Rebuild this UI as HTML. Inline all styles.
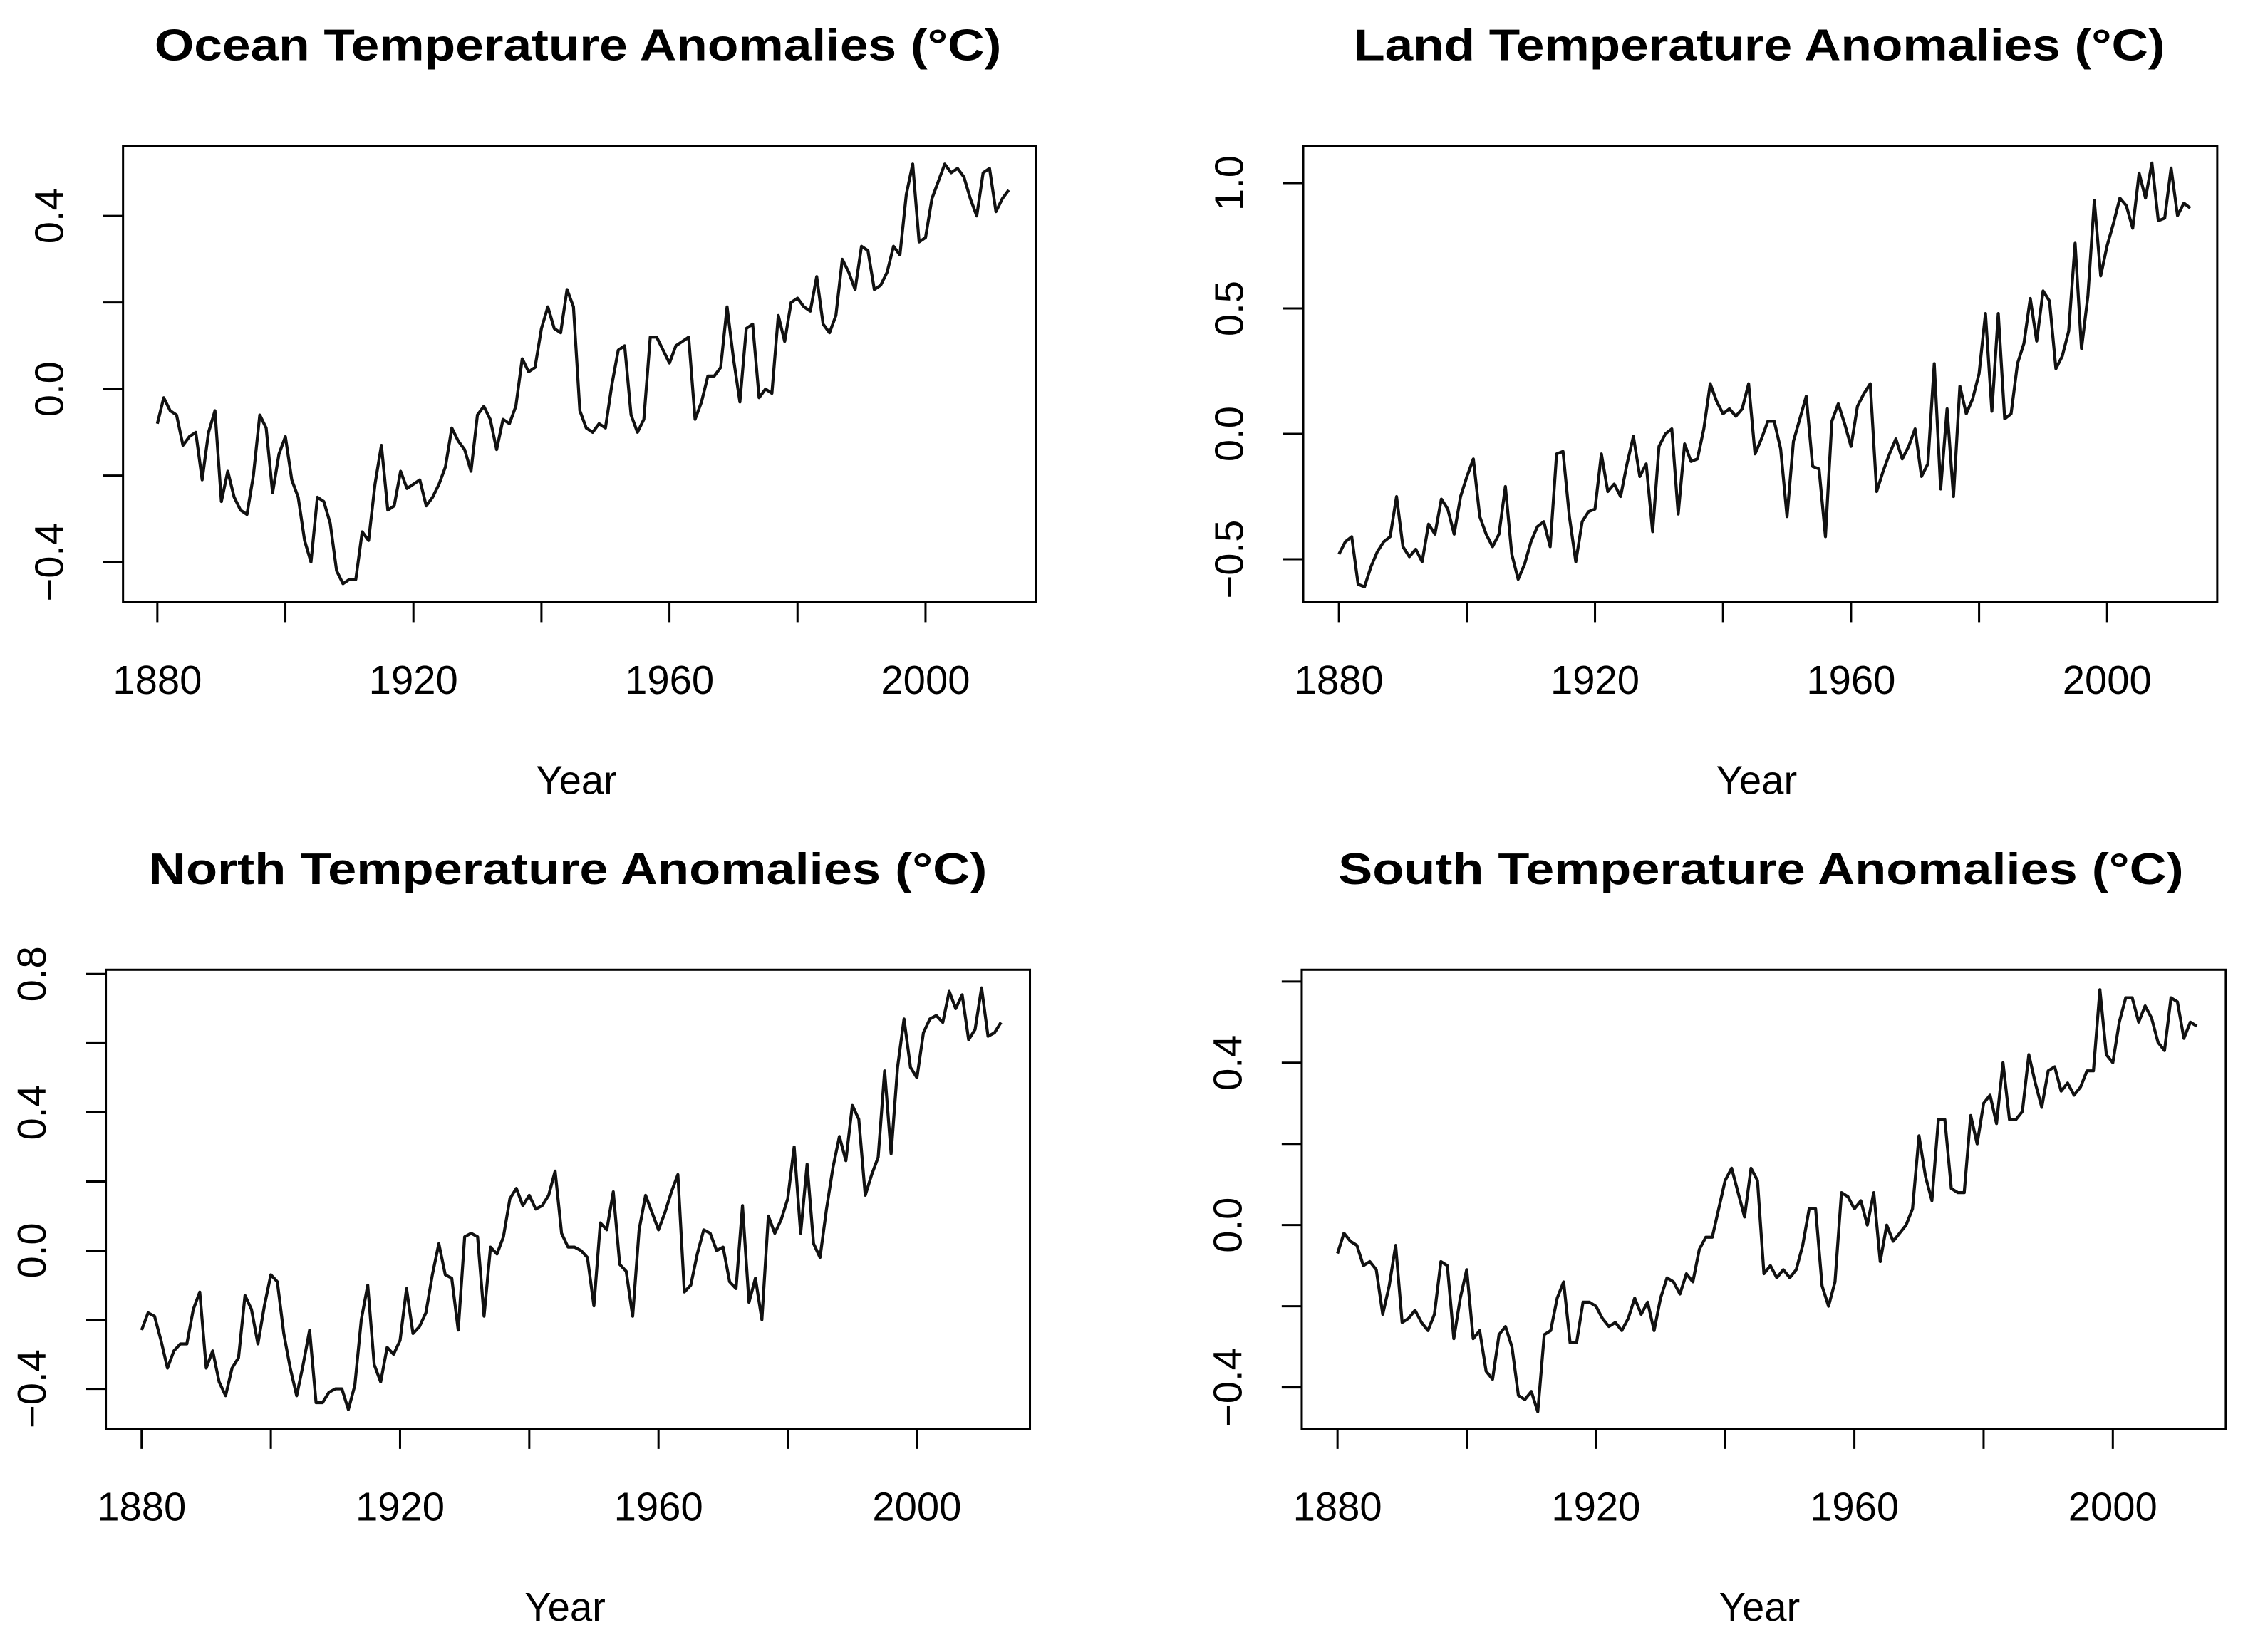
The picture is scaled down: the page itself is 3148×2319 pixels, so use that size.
<!DOCTYPE html>
<html><head><meta charset="utf-8"><style>
html,body{margin:0;padding:0;background:#fff;}
svg{display:block;}
text{font-family:"Liberation Sans",Arial,sans-serif;fill:#000;}
</style></head><body>
<svg id="chart" width="3148" height="2319" viewBox="0 0 1568 1155" preserveAspectRatio="none" xmlns="http://www.w3.org/2000/svg"></svg>
<script>
const startYear = 1880;
const oceanValues = [
-0.08,-0.02,-0.05,-0.06,-0.13,-0.11,-0.10,-0.21,-0.10,-0.05,
-0.26,-0.19,-0.25,-0.28,-0.29,-0.20,-0.06,-0.09,-0.24,-0.15,
-0.11,-0.21,-0.25,-0.35,-0.40,-0.25,-0.26,-0.31,-0.42,-0.45,
-0.44,-0.44,-0.33,-0.35,-0.22,-0.13,-0.28,-0.27,-0.19,-0.23,
-0.22,-0.21,-0.27,-0.25,-0.22,-0.18,-0.09,-0.12,-0.14,-0.19,
-0.06,-0.04,-0.07,-0.14,-0.07,-0.08,-0.04,0.07,0.04,0.05,
0.14,0.19,0.14,0.13,0.23,0.19,-0.05,-0.09,-0.10,-0.08,
-0.09,0.01,0.09,0.10,-0.06,-0.10,-0.07,0.12,0.12,0.09,
0.06,0.10,0.11,0.12,-0.07,-0.03,0.03,0.03,0.05,0.19,
0.07,-0.03,0.14,0.15,-0.02,0.00,-0.01,0.17,0.11,0.20,
0.21,0.19,0.18,0.26,0.15,0.13,0.17,0.30,0.27,0.23,
0.33,0.32,0.23,0.24,0.27,0.33,0.31,0.45,0.52,0.34,
0.35,0.44,0.48,0.52,0.50,0.51,0.49,0.44,0.40,0.50,
0.51,0.41,0.44,0.46];
const landValues = [
-0.48,-0.43,-0.41,-0.60,-0.61,-0.53,-0.47,-0.43,-0.41,-0.25,
-0.45,-0.49,-0.46,-0.51,-0.36,-0.40,-0.26,-0.30,-0.40,-0.25,
-0.17,-0.10,-0.33,-0.40,-0.45,-0.40,-0.21,-0.48,-0.58,-0.52,
-0.43,-0.37,-0.35,-0.45,-0.08,-0.07,-0.33,-0.51,-0.35,-0.31,
-0.30,-0.08,-0.23,-0.20,-0.25,-0.12,-0.01,-0.17,-0.12,-0.39,
-0.05,0.00,0.02,-0.32,-0.04,-0.11,-0.10,0.02,0.20,0.13,
0.08,0.10,0.07,0.10,0.20,-0.08,-0.02,0.05,0.05,-0.06,
-0.33,-0.03,0.06,0.15,-0.13,-0.14,-0.41,0.05,0.12,0.04,
-0.05,0.11,0.16,0.20,-0.23,-0.15,-0.08,-0.02,-0.10,-0.05,
0.02,-0.17,-0.12,0.28,-0.22,0.10,-0.25,0.19,0.08,0.14,
0.24,0.48,0.09,0.48,0.06,0.08,0.28,0.36,0.54,0.37,
0.57,0.53,0.26,0.31,0.41,0.76,0.34,0.55,0.93,0.63,
0.75,0.84,0.94,0.91,0.82,1.04,0.94,1.08,0.85,0.86,
1.06,0.87,0.92,0.90];
const northValues = [
-0.23,-0.18,-0.19,-0.26,-0.34,-0.29,-0.27,-0.27,-0.17,-0.12,
-0.34,-0.29,-0.38,-0.42,-0.34,-0.31,-0.13,-0.17,-0.27,-0.16,
-0.07,-0.09,-0.24,-0.34,-0.42,-0.33,-0.23,-0.44,-0.44,-0.41,
-0.40,-0.40,-0.46,-0.39,-0.20,-0.10,-0.33,-0.38,-0.28,-0.30,
-0.26,-0.11,-0.24,-0.22,-0.18,-0.07,0.02,-0.07,-0.08,-0.23,
0.04,0.05,0.04,-0.19,0.01,-0.01,0.04,0.15,0.18,0.13,
0.16,0.12,0.13,0.16,0.23,0.05,0.01,0.01,0.00,-0.02,
-0.16,0.08,0.06,0.17,-0.04,-0.06,-0.19,0.06,0.16,0.11,
0.06,0.11,0.17,0.22,-0.12,-0.10,-0.01,0.06,0.05,0.00,
0.01,-0.09,-0.11,0.13,-0.15,-0.08,-0.20,0.10,0.05,0.09,
0.15,0.30,0.05,0.25,0.02,-0.02,0.12,0.24,0.33,0.26,
0.42,0.38,0.16,0.22,0.27,0.52,0.28,0.53,0.67,0.53,
0.50,0.63,0.67,0.68,0.66,0.75,0.70,0.74,0.61,0.64,
0.76,0.62,0.63,0.66];
const southValues = [
-0.07,-0.02,-0.04,-0.05,-0.10,-0.09,-0.11,-0.22,-0.15,-0.05,
-0.24,-0.23,-0.21,-0.24,-0.26,-0.22,-0.09,-0.10,-0.28,-0.18,
-0.11,-0.28,-0.26,-0.36,-0.38,-0.27,-0.25,-0.30,-0.42,-0.43,
-0.41,-0.46,-0.27,-0.26,-0.18,-0.14,-0.29,-0.29,-0.19,-0.19,
-0.20,-0.23,-0.25,-0.24,-0.26,-0.23,-0.18,-0.22,-0.19,-0.26,
-0.18,-0.13,-0.14,-0.17,-0.12,-0.14,-0.06,-0.03,-0.03,0.04,
0.11,0.14,0.08,0.02,0.14,0.11,-0.12,-0.10,-0.13,-0.11,
-0.13,-0.11,-0.05,0.04,0.04,-0.15,-0.20,-0.14,0.08,0.07,
0.04,0.06,0.00,0.08,-0.09,0.00,-0.04,-0.02,0.00,0.04,
0.22,0.12,0.06,0.26,0.26,0.09,0.08,0.08,0.27,0.20,
0.30,0.32,0.25,0.40,0.26,0.26,0.28,0.42,0.35,0.29,
0.38,0.39,0.33,0.35,0.32,0.34,0.38,0.38,0.58,0.42,
0.40,0.50,0.56,0.56,0.50,0.54,0.51,0.45,0.43,0.56,
0.55,0.46,0.50,0.49];
const xTickYears = [1880,1900,1920,1940,1960,1980,2000];
const xLabelYears = [1880,1920,1960,2000];
const oceanYTicks = [-0.4,-0.2,0,0.2,0.4];
const oceanYLabels = ["-0.4","0.0","0.4"];
const landYTicks = [-0.5,0,0.5,1.0];
const landYLabels = ["-0.5","0.0","0.5","1.0"];
const northYTicks = [-0.4,-0.2,0,0.2,0.4,0.6,0.8];
const northYLabels = ["-0.4","0.0","0.4","0.8"];
const southYTicks = [-0.4,-0.2,0,0.2,0.4,0.6];
const southYLabels = ["-0.4","0.0","0.4"];

const NS = "http://www.w3.org/2000/svg";
const svg = document.getElementById('chart');
function mk(tag, attrs, parent){const e=document.createElementNS(NS,tag);for(const k in attrs)e.setAttribute(k,attrs[k]);(parent||svg).appendChild(e);return e;}

function panel(cfg, values, yTicks, yLabels){
  const g = mk('g',{});
  
  
  const xs = yr => cfg.x1880 + (yr-1880)*(cfg.x2000-cfg.x1880)/120;
  const ys = v => cfg.ya + (v-cfg.va)*(cfg.yb-cfg.ya)/(cfg.vb-cfg.va);
  const t = mk('text',{x:cfg.tc,y:cfg.T-60,'text-anchor':'middle','font-size':31,'font-weight':'bold',textLength:cfg.tw,lengthAdjust:'spacingAndGlyphs'},g);
  t.textContent = cfg.title;
  
  
  const box = mk('rect',{x:cfg.L,y:cfg.T,width:cfg.R-cfg.L,height:cfg.B-cfg.T,fill:'none',stroke:'#000','stroke-width':1.5},g);
  
  
  xTickYears.forEach(yr=>{
    const l = mk('line',{x1:xs(yr),x2:xs(yr),y1:cfg.B,y2:cfg.B+14,stroke:'#000','stroke-width':1.5},g);
    
    
  });
  xLabelYears.forEach(yr=>{
    const tx = mk('text',{x:xs(yr),y:cfg.B+64,'text-anchor':'middle','font-size':28},g);
    tx.textContent = yr;
    
    
  });
  yTicks.forEach(v=>{
    const y = ys(v);
    if (y < cfg.T-2 || y > cfg.B+2) return;
    const l = mk('line',{x1:cfg.L-14,x2:cfg.L,y1:y,y2:y,stroke:'#000','stroke-width':1.5},g);
    
    
  });
  yLabels.forEach(s=>{
    const y = ys(parseFloat(s));
    const lx = cfg.L-42;
    const tx = mk('text',{x:lx,y:y,'text-anchor':'middle','font-size':28,transform:'rotate(-90 '+lx+' '+y+')'},g);
    tx.textContent = s.replace('-','\u2212');
    
    
  });
  const xt = mk('text',{x:cfg.yc,y:cfg.B+134,'text-anchor':'middle','font-size':28},g);
  xt.textContent = 'Year';
  
  
  const pts = values.map((v,i)=>xs(startYear+i).toFixed(2)+','+ys(v).toFixed(2)).join(' ');
  const pl = mk('polyline',{points:pts,fill:'none',stroke:'#111','stroke-width':2.1,'stroke-linejoin':'round'},g);
  
  
}

panel({key:'ocean',title:'Ocean Temperature Anomalies (°C)',tc:404,tw:592,yc:403,L:86,R:724,T:102,B:421,x1880:110,x2000:647,va:0.4,ya:151,vb:-0.4,yb:393}, oceanValues, oceanYTicks, oceanYLabels);
panel({key:'land',title:'Land Temperature Anomalies (°C)',tc:1230,tw:567,yc:1228,L:911,R:1550,T:102,B:421,x1880:936,x2000:1473,va:1.0,ya:128,vb:-0.5,yb:391}, landValues, landYTicks, landYLabels);
panel({key:'north',title:'North Temperature Anomalies (°C)',tc:397,tw:586,yc:395,L:74,R:720,T:678,B:999,x1880:99,x2000:641,va:0.8,ya:681,vb:-0.4,yb:971}, northValues, northYTicks, northYLabels);
panel({key:'south',title:'South Temperature Anomalies (°C)',tc:1231,tw:591,yc:1230,L:910,R:1556,T:678,B:999,x1880:935,x2000:1477,va:0.4,ya:743,vb:-0.4,yb:970}, southValues, southYTicks, southYLabels);
</script>
</body></html>
